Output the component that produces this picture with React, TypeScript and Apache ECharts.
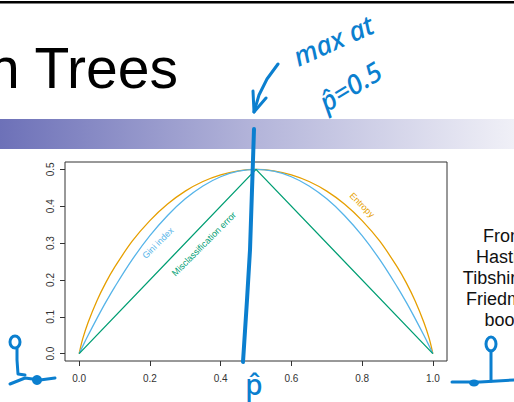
import React, { useEffect, useRef } from "react";
import * as echarts from "echarts";

// Node impurity measures for two-class classification, as a function of the
// proportion p in class 2. Entropy is scaled to pass through (0.5, 0.5).
const pValues = [
  0, 0.01, 0.025, 0.05, 0.075, 0.1, 0.15, 0.2, 0.25, 0.3, 0.35, 0.4, 0.45, 0.5,
  0.55, 0.6, 0.65, 0.7, 0.75, 0.8, 0.85, 0.9, 0.925, 0.95, 0.975, 0.99, 1,
];
const entropyValues = [
  0, 0.04, 0.084, 0.143, 0.192, 0.234, 0.305, 0.361, 0.406, 0.441, 0.467, 0.485,
  0.496, 0.5, 0.496, 0.485, 0.467, 0.441, 0.406, 0.361, 0.305, 0.234, 0.192,
  0.143, 0.084, 0.04, 0,
];
const giniValues = [
  0, 0.02, 0.049, 0.095, 0.139, 0.18, 0.255, 0.32, 0.375, 0.42, 0.455, 0.48,
  0.495, 0.5, 0.495, 0.48, 0.455, 0.42, 0.375, 0.32, 0.255, 0.18, 0.139, 0.095,
  0.049, 0.02, 0,
];
const misclassP = [0, 0.5, 1];
const misclassValues = [0, 0.5, 0];

const xTicks = [0, 0.2, 0.4, 0.6, 0.8, 1.0];
const yTicks = [0, 0.1, 0.2, 0.3, 0.4, 0.5];

const titleText = "n Trees";
const sourceText = "From\nHastie,\nTibshirani,\nFriedman\nbook";
const noteLine1 = "max at";
const noteLine2 = "p\u0302=0.5";
const pHat = "p\u0302";

const ORANGE = "#E69F00";
const SKY = "#56B4E9";
const GREEN = "#009E73";
const INK = "#0b7fcf";

const pairs = (xs: number[], ys: number[]) => xs.map((x, i) => [x, ys[i]]);

export default function App() {
  const ref = useRef<HTMLDivElement>(null);

  useEffect(() => {
    document.body.style.margin = "0";
    const chart = echarts.init(ref.current!, undefined, { renderer: "svg" });
    const font = "'Liberation Sans', Arial, Helvetica, sans-serif";
    const hand = "'Noto Sans', 'DejaVu Sans', sans-serif";
    const ink = (points: number[][], w = 3) => ({
      type: "polyline",
      z: 100,
      shape: { points },
      style: { stroke: INK, lineWidth: w, fill: null, lineCap: "round", lineJoin: "round" },
    });

    chart.setOption({
      animation: false,
      backgroundColor: "#ffffff",
      grid: {
        left: 65,
        right: 67,
        top: 162,
        bottom: 41,
        show: true,
        borderColor: "#333",
        borderWidth: 1,
        backgroundColor: "transparent",
      },
      xAxis: {
        type: "value",
        min: -0.04,
        max: 1.04,
        splitLine: { show: false },
        axisLine: { show: false, onZero: false },
        axisTick: {
          show: true,
          customValues: xTicks,
          length: 5,
          inside: false,
          lineStyle: { color: "#333", width: 1 },
        },
        axisLabel: {
          customValues: xTicks,
          formatter: (v: number) => v.toFixed(1),
          fontSize: 10,
          fontFamily: font,
          color: "#333",
          margin: 12,
        },
      },
      yAxis: {
        type: "value",
        min: -0.02,
        max: 0.52,
        splitLine: { show: false },
        axisLine: { show: false, onZero: false },
        axisTick: {
          show: true,
          customValues: yTicks,
          length: 5,
          inside: false,
          lineStyle: { color: "#333", width: 1 },
        },
        axisLabel: {
          customValues: yTicks,
          formatter: (v: number) => v.toFixed(1),
          fontSize: 10,
          fontFamily: font,
          color: "#333",
          rotate: 90,
          margin: 10,
        },
      },
      series: [
        {
          name: "Entropy",
          type: "line",
          data: pairs(pValues, entropyValues),
          showSymbol: false,
          smooth: 0.35,
          lineStyle: { color: ORANGE, width: 1.3 },
        },
        {
          name: "Gini index",
          type: "line",
          data: pairs(pValues, giniValues),
          showSymbol: false,
          smooth: 0.35,
          lineStyle: { color: SKY, width: 1.3 },
        },
        {
          name: "Misclassification error",
          type: "line",
          data: pairs(misclassP, misclassValues),
          showSymbol: false,
          lineStyle: { color: GREEN, width: 1.3 },
        },
      ],
      graphic: [
        // slide chrome
        { type: "rect", shape: { x: 0, y: 1, width: 514, height: 2.5 }, style: { fill: "#000" } },
        {
          type: "rect",
          shape: { x: 0, y: 119, width: 514, height: 30 },
          style: {
            fill: new echarts.graphic.LinearGradient(0, 0, 1, 0, [
              { offset: 0, color: "#6d71b8" },
              { offset: 0.5, color: "#b4b5da" },
              { offset: 1, color: "#f0f0f7" },
            ]),
          },
        },
        {
          type: "text",
          x: 178,
          y: 96,
          style: {
            text: titleText,
            font: `57px ${font}`,
            fill: "#000",
            textAlign: "right",
            textVerticalAlign: "bottom",
          },
        },
        {
          type: "text",
          x: 504,
          y: 225,
          style: {
            text: sourceText,
            font: `18px ${font}`,
            lineHeight: 21,
            fill: "#111",
            textAlign: "center",
          },
        },
        // curve labels
        {
          type: "text",
          x: 158,
          y: 243,
          rotation: Math.PI / 4,
          style: {
            text: "Gini index",
            font: `9px ${font}`,
            fill: SKY,
            textAlign: "center",
            textVerticalAlign: "middle",
          },
        },
        {
          type: "text",
          x: 204,
          y: 244,
          rotation: Math.PI / 4,
          style: {
            text: "Misclassification error",
            font: `9px ${font}`,
            fill: GREEN,
            textAlign: "center",
            textVerticalAlign: "middle",
          },
        },
        {
          type: "text",
          x: 362,
          y: 205,
          rotation: -Math.PI / 4,
          style: {
            text: "Entropy",
            font: `9px ${font}`,
            fill: ORANGE,
            textAlign: "center",
            textVerticalAlign: "middle",
          },
        },
        // pen annotations
        {
          type: "text",
          z: 100,
          x: 333,
          y: 40,
          rotation: 0.42,
          style: {
            text: noteLine1,
            font: `italic 500 27px ${hand}`,
            fill: INK,
            textAlign: "center",
            textVerticalAlign: "middle",
          },
        },
        {
          type: "text",
          z: 100,
          x: 350,
          y: 86,
          rotation: 0.55,
          style: {
            text: noteLine2,
            font: `italic 500 27px ${hand}`,
            fill: INK,
            textAlign: "center",
            textVerticalAlign: "middle",
          },
        },
        ink([[278, 64], [267, 79], [259, 95], [254, 112]]),
        ink([[253, 91], [254, 112], [266, 98]]),
        ink([[254, 129], [253, 160], [250, 250], [247, 300], [243, 362]], 4),
        {
          type: "text",
          z: 100,
          x: 254,
          y: 384,
          style: {
            text: pHat,
            font: `500 28px ${hand}`,
            fill: INK,
            textAlign: "center",
            textVerticalAlign: "middle",
          },
        },
        {
          type: "ellipse",
          z: 100,
          shape: { cx: 15, cy: 342, rx: 5, ry: 6 },
          style: { stroke: INK, lineWidth: 3, fill: null },
        },
        ink([[17, 348], [17, 360], [18, 374], [25, 375]]),
        ink([[10, 384], [25, 378], [40, 380], [55, 378]]),
        { type: "circle", z: 100, shape: { cx: 37, cy: 380, r: 5 }, style: { fill: INK } },
        {
          type: "ellipse",
          z: 100,
          shape: { cx: 491, cy: 344, rx: 5, ry: 7 },
          style: { stroke: INK, lineWidth: 3, fill: null },
        },
        ink([[491, 351], [491, 381]]),
        ink([[452, 382], [480, 382], [514, 380]]),
        {
          type: "ellipse",
          z: 100,
          shape: { cx: 474, cy: 383, rx: 5, ry: 3.5 },
          style: { fill: INK },
        },
      ],
    });
    return () => chart.dispose();
  }, []);

  return (
    <div
      ref={ref}
      style={{ position: "fixed", left: 0, top: 0, width: 514, height: 402 }}
    />
  );
}
